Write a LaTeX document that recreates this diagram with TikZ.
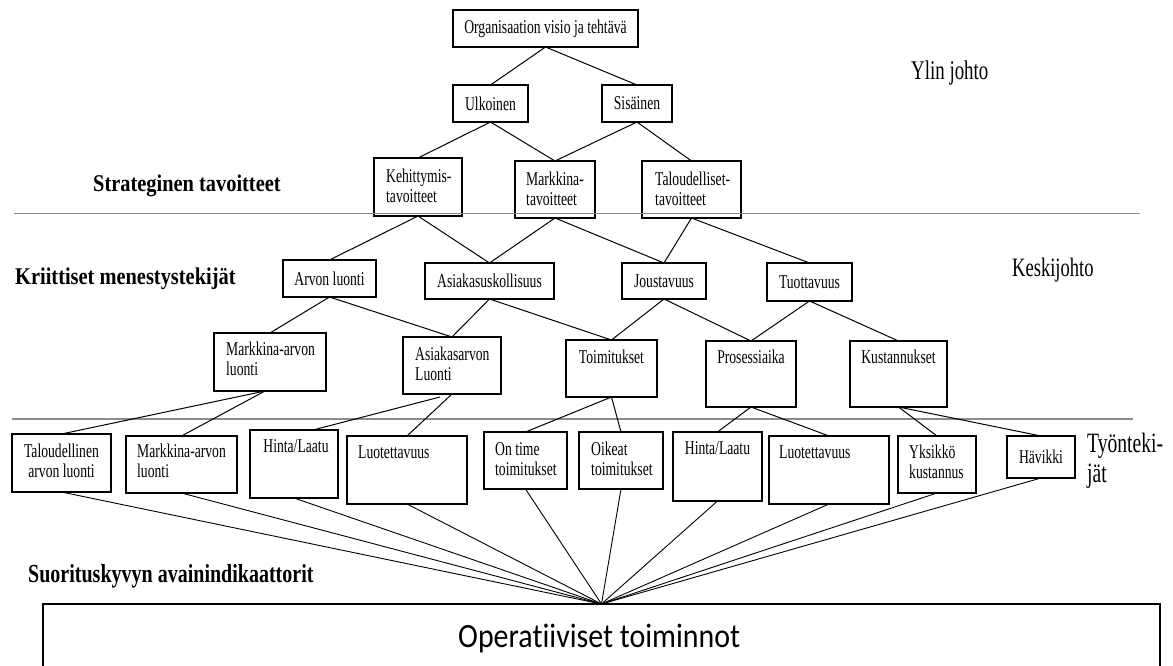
\documentclass[tikz,border=0pt]{standalone}
\usepackage{fontspec}
\newfontfamily\boxfont{Liberation Serif}[FakeStretch=0.70]
\newfontfamily\headfont{Liberation Serif}[FakeStretch=0.85]
\newfontfamily\kpifont{Liberation Serif}[FakeStretch=0.77]
\newfontfamily\opfont{Carlito}[FakeStretch=0.88,Ligatures=NoCommon]
\usetikzlibrary{calc}

% box given by its corners (x1,y1) and (x2,y2), y measured downwards
\newcommand\kbox[5]{%
  \node[kbox, anchor=north west,
        minimum width={(#4-#2)*1pt}, minimum height={(#5-#3)*1pt}]
        (#1) at (#2,#3) {};}

\begin{document}
\begin{tikzpicture}[x=1pt,y=-1pt,
  kbox/.style={draw, line width=1.2pt, inner sep=0pt, outer sep=0pt},
  ktext/.style={inner sep=0pt, align=left, font=\boxfont\fontsize{19.5}{19.5}\selectfont},
  ctext/.style={ktext, align=center},
  link/.style={line width=1pt},
  fan/.style={line width=0.9pt},
  sep/.style={draw=black!45, line width=1.3pt},
  level/.style={inner sep=0pt, anchor=base west, align=left,
                font=\boxfont\fontsize{27}{30}\selectfont},
  head/.style={inner sep=0pt, anchor=base west,
               font=\headfont\bfseries\fontsize{24}{28}\selectfont},
]
\useasboundingbox (0,0) rectangle (1173,666);

% ---- boxes ----
\kbox{org}{453}{10}{638}{47}
\kbox{ulk}{453}{85}{528}{122}
\kbox{sis}{602}{85}{672}{122}
\kbox{keh}{374}{158}{462}{216}
\kbox{mar}{515}{161}{595}{218}
\kbox{tal}{642}{161}{741}{218}
\kbox{arv}{283}{260}{376}{297}
\kbox{asu}{425}{263}{554}{299}
\kbox{jou}{622}{263}{706}{299}
\kbox{tuo}{767}{263}{852}{301}
\kbox{mam}{214}{333}{326}{391}
\kbox{asl}{403}{337}{501}{394}
\kbox{toi}{566}{340}{657}{397}
\kbox{pro}{706}{341}{796}{407}
\kbox{kus}{850}{341}{947}{407}
\kbox{b1}{12}{434}{111}{492}
\kbox{b2}{126}{436}{237}{493}
\kbox{b3}{250}{430}{338}{498}
\kbox{b4}{347}{436}{467}{504}
\kbox{b5}{484}{432}{567}{489}
\kbox{b6}{579}{432}{663}{489}
\kbox{b7}{673}{432}{762}{501}
\kbox{b8}{769}{436}{889}{504}
\kbox{b9}{898}{436}{976}{493}
\kbox{b10}{1007}{436}{1075}{478}
\node[kbox, anchor=north west, minimum width=1117pt, minimum height=120pt]
  (op) at (43,604) {};

% ---- box texts (two-line texts are placed by the baseline of their last line) ----
\node[ctext] (org-t) at (org.center) {Organisaation visio ja tehtävä};
\node[ctext] (ulk-t) at (ulk.center) {Ulkoinen};
\node[ctext] (sis-t) at (sis.center) {Sisäinen};
\node[ktext, anchor=base west] (keh-t) at ([shift={(12,44)}]keh.north west) {Kehittymis-\\tavoitteet};
\node[ktext, anchor=base west] (mar-t) at ([shift={(11,44)}]mar.north west) {Markkina-\\tavoitteet};
\node[ktext, anchor=base west] (tal-t) at ([shift={(13,44)}]tal.north west) {Taloudelliset-\\tavoitteet};
\node[ctext] (arv-t) at (arv.center) {Arvon luonti};
\node[ctext] (asu-t) at (asu.center) {Asiakasuskollisuus};
\node[ctext] (jou-t) at (jou.center) {Joustavuus};
\node[ctext] (tuo-t) at (tuo.center) {Tuottavuus};
\node[ktext, anchor=base west] (mam-t) at ([shift={(12,42)}]mam.north west) {Markkina-arvon\\luonti};
\node[ktext, anchor=base west] (asl-t) at ([shift={(12,43)}]asl.north west) {Asiakasarvon\\Luonti};
\node[ktext, anchor=base] (toi-t) at ([shift={(0,23)}]toi.north) {Toimitukset};
\node[ktext, anchor=base] (pro-t) at ([shift={(0,22)}]pro.north) {Prosessiaika};
\node[ktext, anchor=base] (kus-t) at ([shift={(0,22)}]kus.north) {Kustannukset};
\node[ctext, anchor=base] (b1-t) at ([shift={(0,43)}]b1.north) {Taloudellinen\\arvon luonti};
\node[ktext, anchor=base west] (b2-t) at ([shift={(11,41)}]b2.north west) {Markkina-arvon\\luonti};
\node[ktext, anchor=base] (b3-t) at ([shift={(2,22)}]b3.north) {Hinta/Laatu};
\node[ktext, anchor=base west] (b4-t) at ([shift={(11,22)}]b4.north west) {Luotettavuus};
\node[ktext, anchor=base west] (b5-t) at ([shift={(11,43)}]b5.north west) {On time\\toimitukset};
\node[ktext, anchor=base west] (b6-t) at ([shift={(12,43)}]b6.north west) {Oikeat\\toimitukset};
\node[ktext, anchor=base] (b7-t) at ([shift={(0,22)}]b7.north) {Hinta/Laatu};
\node[ktext, anchor=base west] (b8-t) at ([shift={(10,22)}]b8.north west) {Luotettavuus};
\node[ktext, anchor=base west] (b9-t) at ([shift={(11,42)}]b9.north west) {Yksikkö\\kustannus};
\node[ctext] (b10-t) at (b10.center) {Hävikki};
\node[inner sep=0pt, anchor=base west, font=\opfont\fontsize{34}{40}\selectfont]
  (op-t) at (458,647) {Operatiiviset toiminnot};

% ---- level and section labels ----
\node[level] (ylin) at (911,80) {Ylin johto};
\node[level, font=\boxfont\fontsize{26.5}{30}\selectfont] (keski) at (1012,276) {Keskijohto};
\node[level, font=\boxfont\fontsize{28}{30}\selectfont] (tyon) at (1087,482) {Työnteki-\\jät};
\node[head] (strat) at (93,191) {Strateginen tavoitteet};
\node[head] (krit) at (15,284) {Kriittiset menestystekijät};
\node[inner sep=0pt, anchor=base west, font=\kpifont\bfseries\fontsize{26}{30}\selectfont]
  (kpi) at (28,582) {Suorituskyvyn avainindikaattorit};

% ---- separators between management levels ----
\draw[sep] (14,213.5) -- (1140,213.5);
\draw[sep] (12,419) -- (1133,419);

% ---- connectors ----
\draw[link] (org.south) -- (ulk.north);
\draw[link] (org.south) -- (sis.north);
\draw[link] (ulk.south) -- (keh.north);
\draw[link] (ulk.south) -- (mar.north);
\draw[link] (sis.south) -- (mar.north);
\draw[link] (sis.south) -- (tal.north);
\draw[link] (keh.south) -- (arv.north);
\draw[link] (keh.south) -- (asu.north);
\draw[link] (mar.south) -- (asu.north);
\draw[link] (mar.south) -- (jou.north);
\draw[link] (tal.south) -- (jou.north);
\draw[link] (tal.south) -- (tuo.north);
\draw[link] (arv.south) -- (mam.north);
\draw[link] (arv.south) -- (asl.north);
\draw[link] (asu.south) -- (asl.north);
\draw[link] (asu.south) -- (toi.north);
\draw[link] (jou.south) -- (toi.north);
\draw[link] (jou.south) -- (pro.north);
\draw[link] (tuo.south) -- (pro.north);
\draw[link] (tuo.south) -- (kus.north);
\draw[link] ([xshift=-5pt]mam.south) -- (b1.north);
\draw[link] ([xshift=-5pt]mam.south) -- (b2.north);
\draw[link] ($(asl.south)+(-12,3)$) -- ($(b3.north)+(19,0)$);
\draw[link] (asl.south) -- (b4.north);
\draw[link] (toi.south) -- (b5.north);
\draw[link] (toi.south) -- (b6.north);
\draw[link] (pro.south) -- (b7.north);
\draw[link] (pro.south) -- (b8.north);
\draw[link] (kus.south) -- (b9.north);
\draw[link] (kus.south) -- (b10.north);

% all indicators feed the operational level
\foreach \b in {b1,b2,b3,b4,b5,b6,b7,b8,b9,b10}
  \draw[fan] (\b.south) -- (op.north);
\end{tikzpicture}
\end{document}
